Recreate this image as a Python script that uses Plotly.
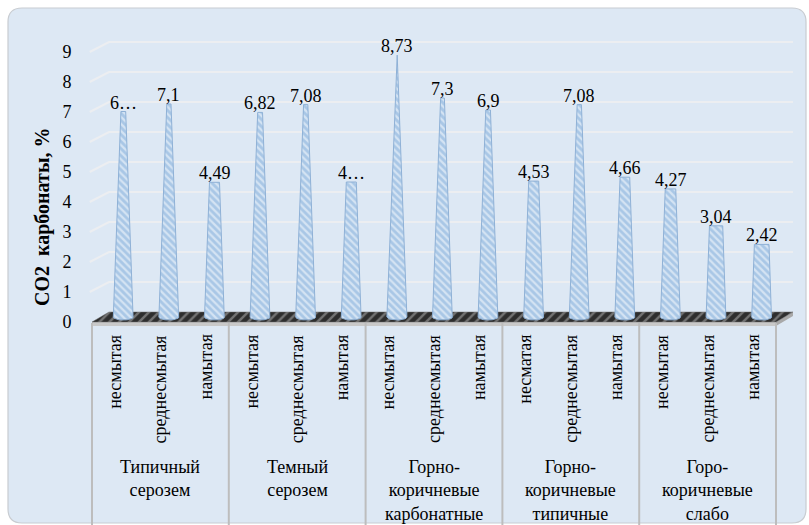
import numpy as np
import plotly.graph_objects as go

# ---- data -------------------------------------------------------------
groups = [
    "Типичный<br>серозем",
    "Темный<br>серозем",
    "Горно-<br>коричневые<br>карбонатные",
    "Горно-<br>коричневые<br>типичные",
    "Горо-<br>коричневые<br>слабо",
]
subcats = [
    "несмытая", "среднесмытая", "намытая",
    "несмытая", "среднесмытая", "намытая",
    "несмытая", "среднесмытая", "намытая",
    "несматая", "среднесмытая", "намытая",
    "несмытая", "среднесмытая", "намытая",
]
co2 = [6.85, 7.1, 4.49, 6.82, 7.08, 4.5, 8.73, 7.3, 6.9, 4.53, 7.08, 4.66, 4.27, 3.04, 2.42]
truncated_labels = {0, 5}          # labels that do not fit and show an ellipsis
y_ticks = list(range(0, 10))
y_title = "CO2\u00a0 карбонаты, %"

# ---- geometry of the canvas --------------------------------------------
W, H = 809, 525
X0, UX = 92.0, 45.6        # pixel of the first category edge, px per category
Y0, UY = 322.0, 30.0       # pixel of value 0, px per unit
DX, DY = 17.0, 10.0        # depth offset of the back wall (px)
dxu, dyu = DX / UX, DY / UY

def px_x(u):
    return X0 + UX * (u + 0.5)

def px_y(v):
    return Y0 - UY * v

XR = [-0.75, 15.0]
YR = [-0.5, 9.6]
x_dom = [px_x(XR[0]) / W, px_x(XR[1]) / W]
y_dom = [1 - px_y(YR[0]) / H, 1 - px_y(YR[1]) / H]

def py(p):                       # pixel row -> paper y
    return 1 - p / H

SERIF = "Liberation Serif"
n = len(co2)
vmax = y_ticks[-1]

fig = go.Figure()

# floor slab (top surface, front face, side face)
x_l, x_r = -0.5, n - 0.5
fig.add_trace(go.Scatter(
    x=[x_l, x_r, x_r, x_l, x_l], y=[0, 0, -4 / UY, -4 / UY, 0],
    fill="toself", fillcolor="#c9c9c9", line=dict(width=0), mode="lines",
    hoverinfo="skip", showlegend=False))
fig.add_trace(go.Scatter(
    x=[x_r, x_r + dxu, x_r + dxu, x_r, x_r], y=[0, dyu, dyu - 4 / UY, -4 / UY, 0],
    fill="toself", fillcolor="#a9a9a9", line=dict(width=0), mode="lines",
    hoverinfo="skip", showlegend=False))
fig.add_trace(go.Scatter(
    x=[x_l, x_r, x_r + dxu, x_l + dxu, x_l], y=[0, 0, dyu, dyu, 0],
    fill="toself", fillcolor="#2e2e2e",
    fillpattern=dict(shape="/", bgcolor="#2e2e2e", fgcolor="#b8b8b8", size=7, solidity=0.35),
    line=dict(width=0.5, color="#6d6d6d"), mode="lines",
    hoverinfo="skip", showlegend=False))

# cones truncated against the axis maximum
hw = 10.0 / UX
eh = 3.0 / UY
t = np.linspace(0, np.pi, 16)
for i, v in enumerate(co2):
    xc = i + dxu / 2
    yb = dyu / 2
    yt = v + dyu / 2
    thw = hw * (1 - v / vmax)
    xs = [xc - hw, xc - thw, xc + thw, xc + hw] + list(xc + hw * np.cos(t))
    ys = [yb, yt, yt, yb] + list(yb - eh * np.sin(t))
    fig.add_trace(go.Scatter(
        x=xs, y=ys, fill="toself", mode="lines",
        fillcolor="#b0cdea",
        fillpattern=dict(shape="\\", bgcolor="#a9c7e6", fgcolor="#ffffff", size=5, solidity=0.45),
        line=dict(color="#8fb1d6", width=1),
        hoverinfo="skip", showlegend=False))

# value labels
for i, v in enumerate(co2):
    txt = f"{v:g}".replace(".", ",")
    if i in truncated_labels:
        txt = txt[0] + "…"
    fig.add_annotation(
        x=i + dxu / 2, y=v + dyu / 2, text=txt, showarrow=False,
        xanchor="center", yanchor="bottom", yshift=-3,
        font=dict(family=SERIF, size=18, color="#000000"))

# back-wall gridlines with the perspective step at the left
shapes = []
for v in y_ticks[1:]:
    shapes.append(dict(
        type="path", xref="x", yref="y", layer="below",
        path=f"M {x_l - 0.05},{v} L {x_l + dxu},{v + dyu} L {x_r + dxu},{v + dyu}",
        line=dict(color="#eceef1", width=2)))

# rounded background panel
l, r, tp, bt, rad = 8 / W, 806 / W, py(8), py(523), 14
rx, ry = rad / W, rad / H
bg_path = (f"M {l + rx},{tp} L {r - rx},{tp} Q {r},{tp} {r},{tp - ry} "
           f"L {r},{bt + ry} Q {r},{bt} {r - rx},{bt} L {l + rx},{bt} "
           f"Q {l},{bt} {l},{bt + ry} L {l},{tp - ry} Q {l},{tp} {l + rx},{tp} Z")
shapes.insert(0, dict(type="path", xref="paper", yref="paper", layer="below",
                      path=bg_path, fillcolor="#dde8f4",
                      line=dict(color="#c8ccd1", width=1.2)))

# group dividers below the floor
for k in range(len(groups) + 1):
    shapes.append(dict(
        type="line", xref="x", yref="paper", layer="above",
        x0=x_l + 3 * k, x1=x_l + 3 * k, y0=py(Y0 + 1), y1=py(H + 2),
        line=dict(color="#bdbdbd", width=2)))

# category labels
for i, name in enumerate(subcats):
    fig.add_annotation(
        x=i, y=py(333), yref="paper", text=name, showarrow=False,
        textangle=-90, xanchor="center", yanchor="top",
        font=dict(family=SERIF, size=18, color="#000000"))

for k, g in enumerate(groups):
    fig.add_annotation(
        x=3 * k + 1, y=py(455), yref="paper", text=g, showarrow=False,
        xanchor="center", yanchor="top", align="center",
        font=dict(family=SERIF, size=18, color="#000000"))

# axis title
fig.add_annotation(
    x=42 / W, y=py(217), xref="paper", yref="paper", text=f"<b>{y_title}</b>",
    showarrow=False, textangle=-90, xanchor="center", yanchor="middle",
    font=dict(family=SERIF, size=20, color="#000000"))

fig.update_layout(
    width=W, height=H,
    margin=dict(l=0, r=0, t=0, b=0),
    paper_bgcolor="#ffffff", plot_bgcolor="rgba(0,0,0,0)",
    shapes=shapes,
    xaxis=dict(domain=x_dom, range=XR, showgrid=False, zeroline=False,
               showticklabels=False, showline=False, fixedrange=True),
    yaxis=dict(domain=y_dom, range=YR, showgrid=False, zeroline=False,
               showline=False, tickvals=y_ticks, ticks="",
               ticklabelstandoff=8,
               tickfont=dict(family=SERIF, size=18, color="#000000"),
               fixedrange=True),
    showlegend=False,
)

fig.write_html("out.html")
